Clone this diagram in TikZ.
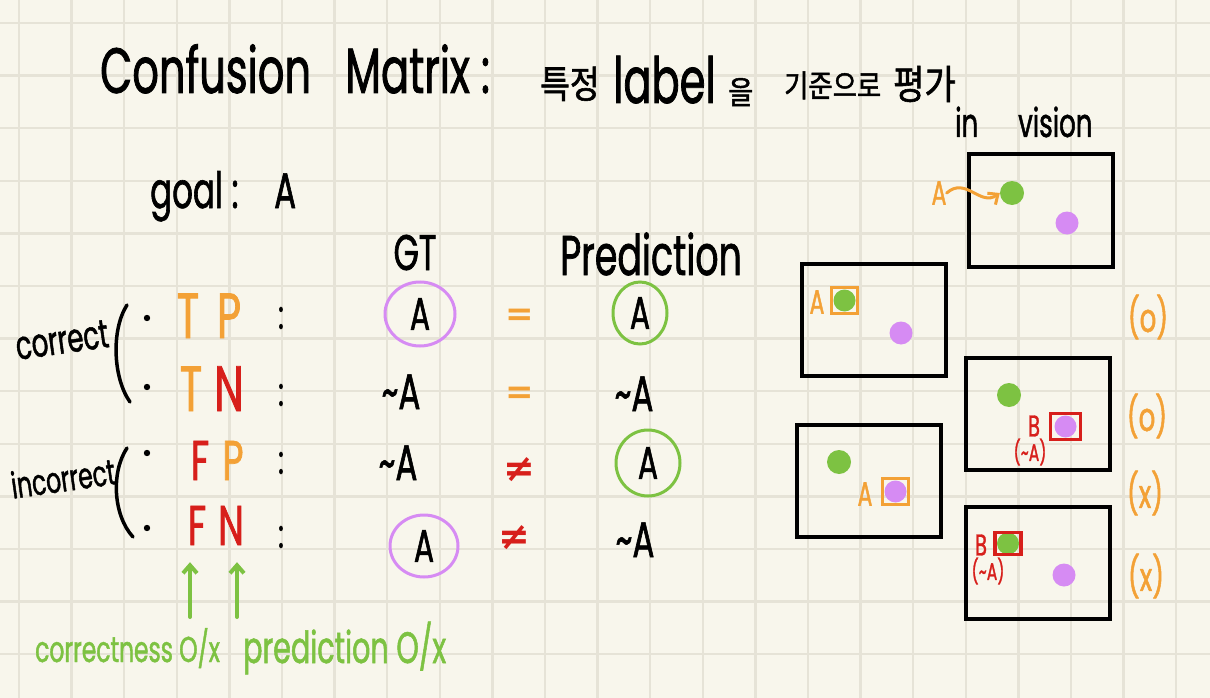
\documentclass[tikz,border=0pt]{standalone}
\usepackage{fontspec}
\setmainfont{Poppins}
\newfontfamily\hand[FakeStretch=0.65,FakeBold=1.2]{Poppins}
\newfontfamily\kor[FakeStretch=0.85,FakeBold=1.5]{Noto Sans CJK KR}
\newfontfamily\symf{DejaVu Sans}
\usepackage{xcolor}
\usepackage{tikz}
\usetikzlibrary{arrows.meta}
\definecolor{paper}{HTML}{F8F6EC}
\definecolor{gridc}{HTML}{E6E3D7}
\definecolor{horange}{HTML}{F3A136}
\definecolor{hred}{HTML}{D71F1B}
\definecolor{hgreen}{HTML}{7DC242}
\definecolor{hpurple}{HTML}{D68BF3}
\newcommand\fsz[1]{\fontsize{#1}{#1}\selectfont}

\begin{document}
\begin{tikzpicture}[x=1pt, y=-1pt,
  >={Straight Barb[length=8pt, width=14pt]},
  hw/.style={inner sep=0pt, font=\hand\fsz{#1}},
  kr/.style={inner sep=0pt, font=\kor\fsz{#1}},
  sym/.style={inner sep=0pt, font=\symf\bfseries\fsz{#1}},
  gridl/.style={draw=gridc, line width=2.5pt},
  vframe/.style={draw, line width=4pt, minimum width=144pt, minimum height=112pt, inner sep=0pt},
  gdot/.style={circle, fill=hgreen, minimum size=24pt, inner sep=0pt},
  pdot/.style={circle, fill=hpurple, minimum size=23pt, inner sep=0pt},
  osq/.style={draw=horange, line width=3.5pt, minimum width=26pt, minimum height=26pt, inner sep=0pt},
  rsq/.style={osq, draw=hred},
  pcirc/.style={draw=hpurple, line width=3pt},
  gcirc/.style={draw=hgreen, line width=3pt},
  bline/.style={line width=3.5pt, line cap=round},
  garr/.style={->, draw=hgreen, line width=4pt, line cap=round},
  oarr/.style={->, draw=horange, line width=3pt, line cap=round}
]
  % paper + grid
  \useasboundingbox (0,0) rectangle (1210,698);
  \fill[paper] (0,0) rectangle (1210,698);
  \foreach \gx in {0,...,22} \draw[gridl] ({19+52.6*\gx},0) -- ++(0,698);
  \foreach \gy in {0,...,12} \draw[gridl] (0,{23+52.6*\gy}) -- ++(1210,0);

  % title
  \node[hw=64, anchor=base west] (ttl1) at (100,93) {Confusion};
  \node[hw=64, anchor=base west] (ttl2) at (345,93) {Matrix :};
  \node[kr=38, anchor=base west] (ttl3) at (540,98) {특정};
  \node[hw=64, anchor=base west] (ttl4) at (613,103) {label};
  \node[kr=32, anchor=base west] (ttl5) at (728,104) {을};
  \node[kr=31, anchor=base west] (ttl6) at (784,97) {기준으로};
  \node[kr=40, anchor=base west] (ttl7) at (893,99) {평가};
  \node[hw=40, anchor=base west] (inv1) at (955,137) {in};
  \node[hw=40, anchor=base west] (inv2) at (1018,137) {vision};

  \node[hw=50, anchor=base west] (goal) at (150,208) {goal :};
  \node[hw=50, anchor=base west] (goalA) at (274,208) {A};
  \node[hw=50, anchor=base] (gt) at (415,270) {GT};
  \node[hw=56, anchor=base west] (pred) at (560,275) {Prediction};

  % correct / incorrect
  \node[hw=40, rotate=8] (cor) at (62,340) {correct};
  \node[hw=36, rotate=8] (inc) at (63,478) {incorrect};
  \draw[bline] (127,305) .. controls (111,330) and (113,378) .. (130,402);
  \draw[bline] (127,448) .. controls (111,472) and (113,515) .. (133,537);
  \foreach \by in {318,387,453,528} \fill (147,\by) circle (3.2);

  % TP TN FP FN
  \node[hw=64, anchor=base, text=horange] (tpT) at (188,338) {T};
  \node[hw=64, anchor=base, text=horange] (tpP) at (229,338) {P};
  \node[hw=64, anchor=base, text=horange] (tnT) at (191,411) {T};
  \node[hw=64, anchor=base, text=hred] (tnN) at (229,411) {N};
  \node[hw=56, anchor=base, text=hred] (fpF) at (200,480) {F};
  \node[hw=56, anchor=base, text=horange] (fpP) at (233,480) {P};
  \node[hw=56, anchor=base, text=hred] (fnF) at (197,545) {F};
  \node[hw=56, anchor=base, text=hred] (fnN) at (231,545) {N};
  \node[hw=40] (c1) at (281,318) {:};
  \node[hw=40] (c2) at (281,395) {:};
  \node[hw=40] (c3) at (281,463) {:};
  \node[hw=40] (c4) at (281,537) {:};

  % GT
  \node[hw=46] (gt1) at (420,314) {A};
  \draw[pcirc] (gt1) ellipse [x radius=35, y radius=32];
  \node[hw=50, anchor=base] (gt2) at (401,409) {\textasciitilde A};
  \node[hw=50, anchor=base] (gt3) at (398,480) {\textasciitilde A};
  \node[hw=46] (gt4) at (424,546) {A};
  \draw[pcirc] (gt4) ellipse [x radius=34, y radius=31];

  % = / !=
  \node[sym=34, text=horange] (eq1) at (520,317) {=};
  \node[sym=34, text=horange] (eq2) at (520,395) {=};
  \node[sym=38, text=hred] (ne1) at (519,470) {≠};
  \node[sym=38, text=hred] (ne2) at (514,538) {≠};

  % Prediction
  \node[hw=46] (pr1) at (640,313) {A};
  \draw[gcirc] (pr1) ellipse [x radius=27, y radius=31];
  \node[hw=50, anchor=base] (pr2) at (634,411) {\textasciitilde A};
  \node[hw=46] (pr3) at (648,463) {A};
  \draw[gcirc] (pr3) ellipse [x radius=32, y radius=33];
  \node[hw=50, anchor=base] (pr4) at (635,557) {\textasciitilde A};

  % arrows + notes
  \coordinate (ar1) at (190,617);
  \coordinate (ar2) at (237,617);
  \draw[garr] (ar1) -- ([yshift=-17pt]ar1 |- fnF.south);
  \draw[garr] (ar2) -- ([yshift=-17pt]ar2 |- fnN.south);
  \node[hw=36, anchor=base west, text=hgreen] (nt1) at (35,662) {correctness O/x};
  \node[hw=44, anchor=base west, text=hgreen] (nt2) at (243,663) {prediction O/x};

  % in vision
  \node[vframe] (f1) at (1041,210.5) {};
  \node[gdot] (g1) at (1012,193) {};
  \node[pdot] (p1) at (1067,223) {};
  \node[hw=34, text=horange] (a1) at (939,193) {A};
  \draw[oarr] (a1.east) .. controls (966,176) and (980,207) .. (g1.west);

  \node[vframe] (f2) at (874,320) {};
  \node[gdot, minimum size=22pt] (g2) at (844.5,300.5) {};
  \node[osq] (s2) at (844.5,300.5) {};
  \node[pdot] (p2) at (901,333) {};
  \node[hw=34, text=horange] (a2) at (817,302) {A};

  \node[vframe] (f3) at (1038,414) {};
  \node[gdot] (g3) at (1009,395) {};
  \node[pdot, minimum size=22pt] (p3) at (1065.5,426.5) {};
  \node[rsq, minimum width=30pt] (s3) at (1065.5,426.5) {};
  \node[hw=30, text=hred] (b3) at (1034,426) {B};
  \node[hw=24, text=hred] (n3) at (1030,452) {(\textasciitilde A)};

  \node[vframe] (f4) at (868.5,480.5) {};
  \node[gdot] (g4) at (839,462) {};
  \node[pdot, minimum size=22pt] (p4) at (895.5,491.5) {};
  \node[osq] (s4) at (895.5,491.5) {};
  \node[hw=34, text=horange] (a4) at (865,494) {A};

  \node[vframe] (f5) at (1038,562.5) {};
  \node[gdot, minimum size=22pt] (g5) at (1008,543.5) {};
  \node[rsq, minimum height=22pt] (s5) at (1008,543.5) {};
  \node[pdot] (p5) at (1064,575) {};
  \node[hw=30, text=hred] (b5) at (981,545) {B};
  \node[hw=24, text=hred] (n5) at (988,571) {(\textasciitilde A)};

  % (o) / (x)
  \node[hw=40, text=horange] (m1) at (1148,317) {(o)};
  \node[hw=40, text=horange] (m2) at (1147,416) {(o)};
  \node[hw=40, text=horange] (m3) at (1145,493) {(x)};
  \node[hw=40, text=horange] (m4) at (1146,576) {(x)};
\end{tikzpicture}
\end{document}
